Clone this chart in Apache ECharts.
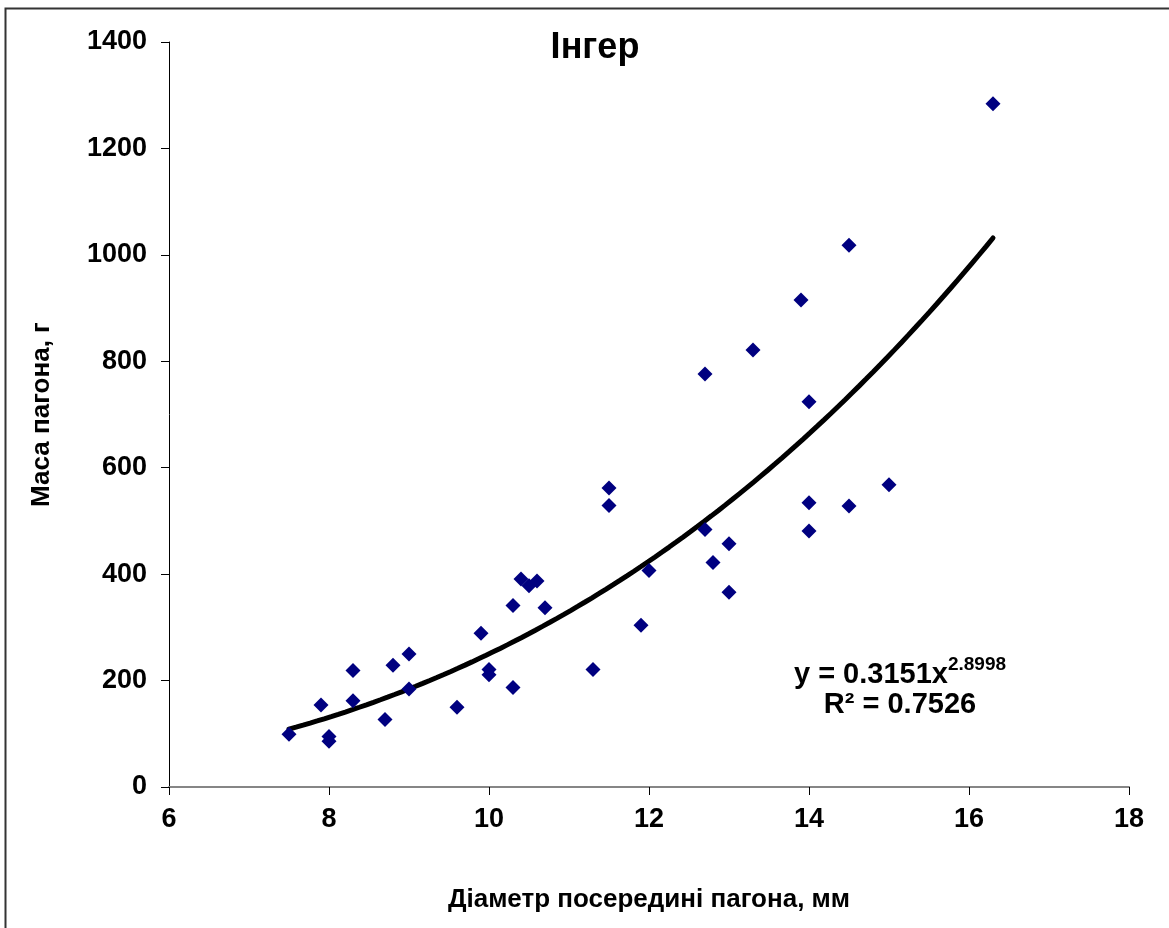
<!DOCTYPE html>
<html>
<head>
<meta charset="utf-8">
<title>Інгер</title>
<script src="https://cdn.jsdelivr.net/npm/echarts@6/dist/echarts.min.js"></script>
<style>
  html, body { margin: 0; padding: 0; background: #ffffff; }
  #chart { width: 1169px; height: 928px; }
</style>
</head>
<body>
<div id="chart"></div>
<script>
// Shoot diameter at the middle (mm) and shoot mass (g)
const diameters = [
  7.5, 7.9, 8.0, 8.0, 8.3, 8.3, 8.7, 8.8, 9.0, 9.0,
  9.6, 9.9, 10.0, 10.0, 10.3, 10.3, 10.4, 10.5, 10.6, 10.7,
  11.3, 11.5, 11.5, 11.9, 12.0, 12.7, 12.7, 12.8, 13.0, 13.0,
  13.3, 13.9, 14.0, 14.0, 14.0, 14.5, 14.5, 15.0, 16.3
];
const masses = [
  99, 154, 95, 86, 219, 162, 127, 229, 250, 184,
  150, 289, 221, 211, 341, 187, 391, 378, 387, 337,
  221, 562, 529, 304, 407, 776, 484, 422, 457, 366,
  821, 915, 724, 534, 481, 1018, 528, 568, 1284
];

// Power trend line y = a * x^b
const trendA = 0.3151;
const trendB = 2.8998;
const trendR2 = 0.7526;

const xTicks = [6, 8, 10, 12, 14, 16, 18];
const yTicks = [0, 200, 400, 600, 800, 1000, 1200, 1400];

const points = diameters.map((d, i) => [d, masses[i]]);

const xMinData = Math.min(...diameters);
const xMaxData = Math.max(...diameters);
const trend = [];
const steps = 100;
for (let i = 0; i <= steps; i++) {
  const x = xMinData + (xMaxData - xMinData) * i / steps;
  trend.push([x, trendA * Math.pow(x, trendB)]);
}

const FONT = '"Liberation Sans", Arial, sans-serif';

const chart = echarts.init(document.getElementById('chart'), null, { renderer: 'canvas' });

chart.setOption({
  backgroundColor: '#ffffff',
  animation: false,
  title: {
    text: 'Інгер',
    left: 590,
    top: 25,
    textAlign: 'center',
    textStyle: { fontFamily: FONT, fontWeight: 'bold', fontSize: 36, color: '#000000' }
  },
  grid: { left: 169, top: 42, right: 40, bottom: 141, containLabel: false },
  xAxis: {
    type: 'value',
    min: xTicks[0],
    max: xTicks[xTicks.length - 1],
    interval: 2,
    name: 'Діаметр посередині пагона, мм',
    nameLocation: 'middle',
    nameGap: 100,
    nameTextStyle: { fontFamily: FONT, fontWeight: 'bold', fontSize: 26, color: '#000000' },
    axisLine: { onZero: false, lineStyle: { color: '#868686', width: 2 } },
    axisTick: { show: true, inside: false, length: 8, lineStyle: { color: '#000000', width: 1 } },
    axisLabel: { margin: 19, fontFamily: FONT, fontWeight: 'bold', fontSize: 27, color: '#000000' },
    splitLine: { show: false }
  },
  yAxis: {
    type: 'value',
    min: yTicks[0],
    max: yTicks[yTicks.length - 1],
    interval: 200,
    name: 'Маса пагона, г',
    nameLocation: 'middle',
    nameGap: 114,
    nameRotate: 90,
    nameTextStyle: { fontFamily: FONT, fontWeight: 'bold', fontSize: 26, color: '#000000' },
    axisLine: { show: true, lineStyle: { color: '#000000', width: 1 } },
    axisTick: { show: true, inside: false, length: 8, lineStyle: { color: '#000000', width: 1 } },
    axisLabel: {
      margin: 22, fontFamily: FONT, fontWeight: 'bold', fontSize: 27, color: '#000000',
      formatter: (v) => String(v)
    },
    splitLine: { show: false }
  },
  graphic: [
    {
      type: 'rect',
      shape: { x: 5.5, y: 8.5, width: 1300, height: 1000 },
      style: { fill: 'none', stroke: '#333333', lineWidth: 2 },
      silent: true,
      z: 0
    },
    {
      type: 'text',
      x: 900,
      y: 672,
      style: {
        text: '{m|y = 0.3151x}{s|2.8998}',
        align: 'center',
        verticalAlign: 'middle',
        rich: {
          m: { fontFamily: FONT, fontWeight: 'bold', fontSize: 29, color: '#000000', verticalAlign: 'bottom', lineHeight: 34 },
          s: { fontFamily: FONT, fontWeight: 'bold', fontSize: 19, color: '#000000', verticalAlign: 'top', lineHeight: 34, padding: [0, 0, 12, 0] }
        }
      },
      z: 10
    },
    {
      type: 'text',
      x: 900,
      y: 705,
      style: {
        text: 'R² = ' + trendR2.toFixed(4),
        align: 'center',
        verticalAlign: 'middle',
        fontFamily: FONT, fontWeight: 'bold', fontSize: 29, fill: '#000000'
      },
      z: 10
    }
  ],
  series: [
    {
      name: 'Маса пагона',
      type: 'scatter',
      data: points,
      symbol: 'diamond',
      symbolSize: 15,
      itemStyle: { color: '#000080', opacity: 1 },
      z: 3
    },
    {
      name: 'Тренд',
      type: 'line',
      data: trend,
      showSymbol: false,
      symbol: 'none',
      smooth: false,
      lineStyle: { color: '#000000', width: 5, cap: 'round' },
      z: 2
    }
  ]
});
</script>
</body>
</html>
